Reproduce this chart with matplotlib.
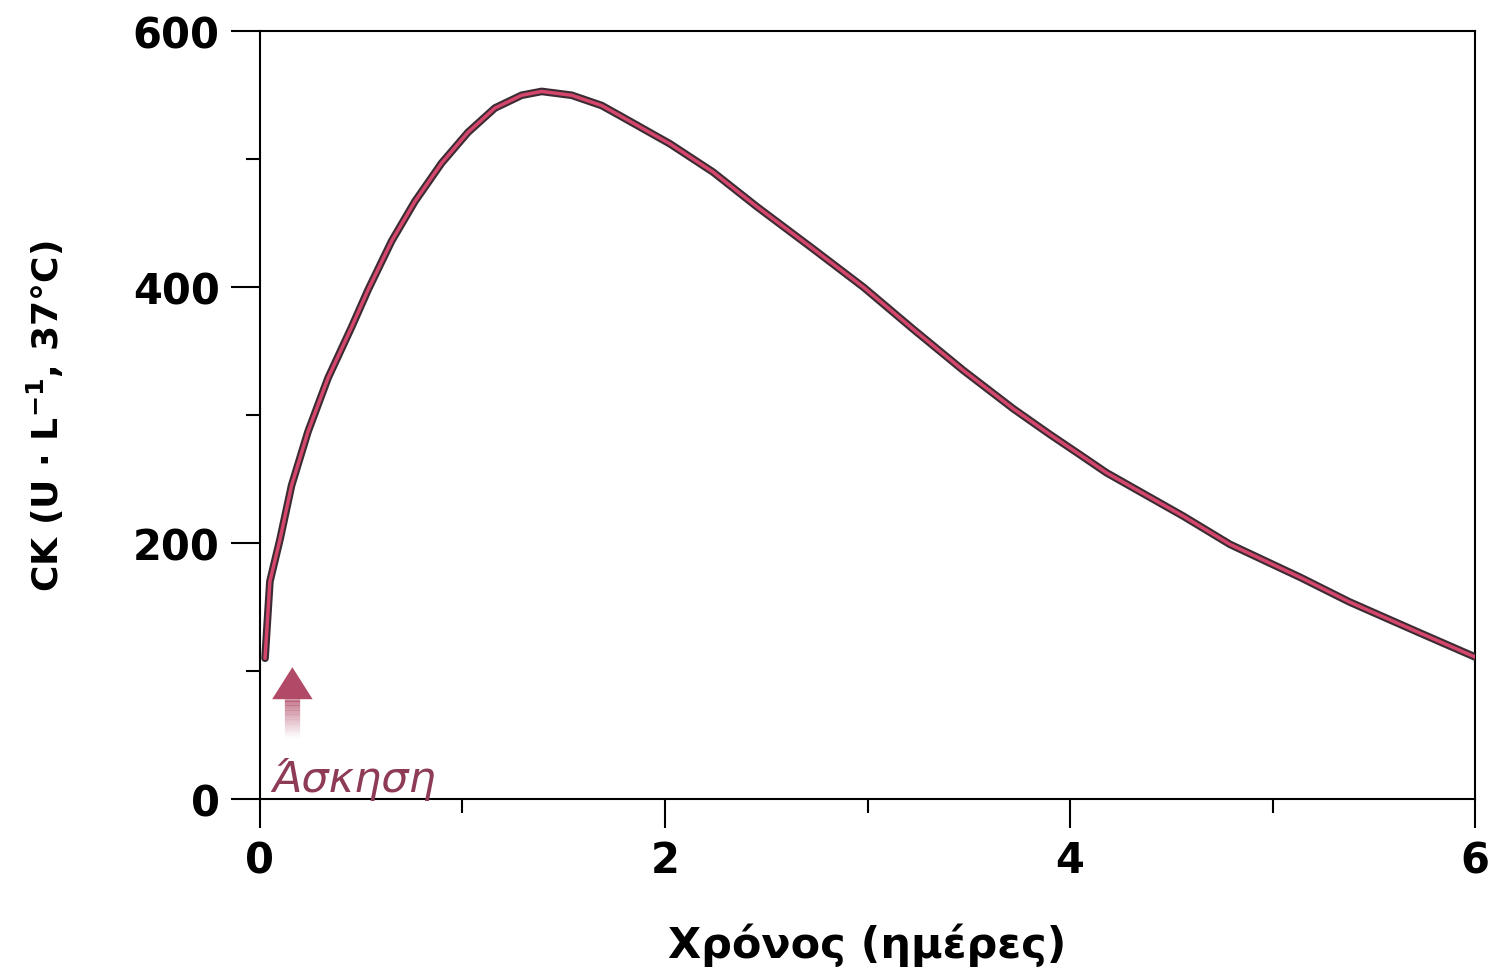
import numpy as np
import matplotlib.pyplot as plt
import matplotlib.patches as mpatches

plt.rcParams['font.family'] = ['DejaVu Sans']

# CK time course after exercise
days = [0.025, 0.049, 0.099, 0.156, 0.237, 0.336, 0.453, 0.534, 0.650, 0.765,
        0.897, 1.027, 1.16, 1.292, 1.391, 1.539, 1.687, 1.778, 2.025, 2.237,
        2.453, 2.731, 2.98, 3.227, 3.473, 3.72, 3.90, 4.05, 4.18, 4.56,
        4.79, 5.14, 5.38, 5.71, 6.0]
ck = [110, 170, 203, 245, 287, 329, 369, 398, 436, 467,
      497, 521, 540, 550, 553, 550, 542, 534, 512, 490,
      463, 430, 400, 367, 335, 305, 285, 269, 255, 221,
      199, 173, 154, 131, 111]

xticks = [0, 2, 4, 6]
yticks = [0, 200, 400, 600]
arrow_x = 0.16
arrow_top = 103
arrow_bottom = 48
label_text = "Άσκηση"

fig = plt.figure(figsize=(15.01, 9.78), dpi=100)
ax = fig.add_axes([0.1732, 0.182, 0.8095, 0.785])

ax.plot(days, ck, color='#3b2b33', lw=5.5, solid_capstyle='round',
        solid_joinstyle='round', zorder=3)
ax.plot(days, ck, color='#d4466c', lw=2.5, solid_capstyle='round',
        solid_joinstyle='round', zorder=4)

# arrow marking the exercise bout: solid head, stem fading downward
head_h = 25
ax.add_patch(mpatches.Polygon([[arrow_x - 0.1, arrow_top - head_h],
                               [arrow_x + 0.1, arrow_top - head_h],
                               [arrow_x, arrow_top]],
                              closed=True, color='#b04a66', lw=0, zorder=5))
n = 30
ys = np.linspace(arrow_top - head_h, arrow_bottom, n + 1)
for i in range(n):
    a = 0.9 * (1 - i / n) ** 1.2
    ax.plot([arrow_x, arrow_x], [ys[i], ys[i + 1]], color='#b04a66',
            lw=11, alpha=a, solid_capstyle='butt', zorder=5)

ax.text(0.06, 6, label_text, color='#8e3c55', fontsize=31,
        style='italic', fontweight='light', va='baseline')

ax.set_xlim(0, 6)
ax.set_ylim(0, 600)
ax.set_xticks(xticks)
ax.set_yticks(yticks)
ax.set_xticks([1, 3, 5], minor=True)
ax.set_yticks([100, 300, 500], minor=True)
ax.tick_params(which='major', length=21, width=1.5, labelsize=30, pad=8)
ax.tick_params(which='minor', length=10, width=1.5)
for lab in ax.get_xticklabels() + ax.get_yticklabels():
    lab.set_fontweight('bold')
for s in ax.spines.values():
    s.set_linewidth(1.5)

ax.set_xlabel("Χρόνος (ημέρες)", fontsize=31, fontweight='bold', labelpad=30)
ax.set_ylabel(r"CK (U · L$^{\mathbf{-1}}$, 37°C)", fontsize=26, fontweight='bold', labelpad=48)

fig.savefig("out.png", dpi=100)
